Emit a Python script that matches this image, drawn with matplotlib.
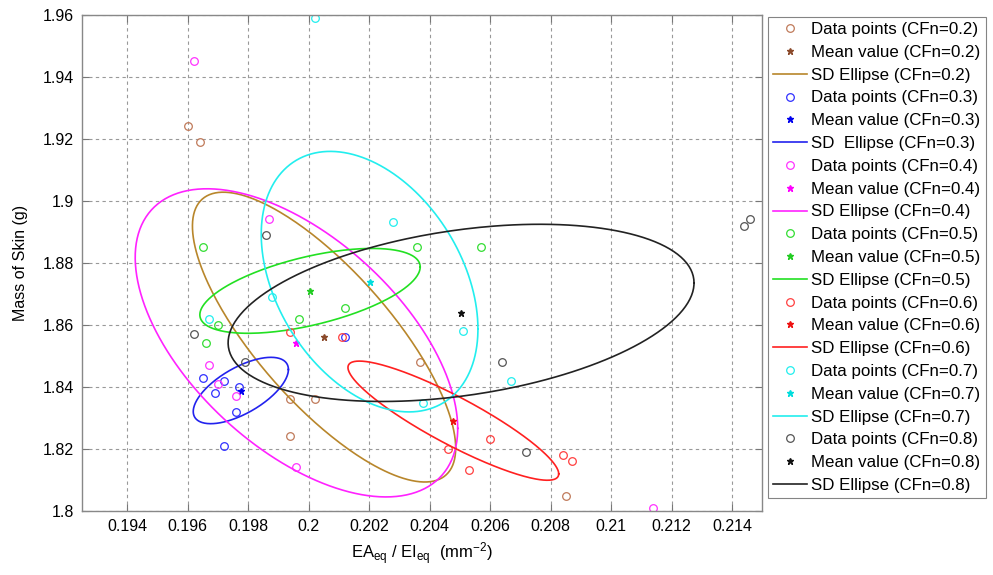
import numpy as np
import matplotlib
matplotlib.use("Agg")
import matplotlib.pyplot as plt
from matplotlib.ticker import FuncFormatter, MultipleLocator

plt.rcParams['font.family'] = ['Liberation Sans', 'DejaVu Sans']
plt.rcParams['mathtext.fontset'] = 'custom'
plt.rcParams['mathtext.rm'] = 'Liberation Sans'
plt.rcParams['mathtext.it'] = 'Liberation Sans'

cfn_labels = ["0.2", "0.3", "0.4", "0.5", "0.6", "0.7", "0.8"]

x_02 = [0.19600, 0.19641, 0.19938, 0.20019, 0.19938, 0.20368, 0.20850]
y_02 = [1.9241, 1.9190, 1.8360, 1.8360, 1.8241, 1.8480, 1.8048]

x_03 = [0.19649, 0.19720, 0.19690, 0.19770, 0.19759, 0.19719, 0.20120]
y_03 = [1.8429, 1.8418, 1.8379, 1.8400, 1.8320, 1.8209, 1.8559]

x_04 = [0.19619, 0.19869, 0.19670, 0.19700, 0.19759, 0.19959, 0.21139]
y_04 = [1.9451, 1.8941, 1.8469, 1.8408, 1.8370, 1.8141, 1.8010]

x_05 = [0.19650, 0.20359, 0.20570, 0.19701, 0.19660, 0.19969, 0.20120]
y_05 = [1.8851, 1.8851, 1.8851, 1.8599, 1.8540, 1.8619, 1.8653]

x_06 = [0.19938, 0.20111, 0.20599, 0.20459, 0.20530, 0.20840, 0.20870]
y_06 = [1.8577, 1.8559, 1.8230, 1.8198, 1.8130, 1.8179, 1.8160]

x_07 = [0.20020, 0.20280, 0.19880, 0.19670, 0.20509, 0.20379, 0.20670]
y_07 = [1.9590, 1.8930, 1.8689, 1.8618, 1.8579, 1.8348, 1.8418]

x_08 = [0.19859, 0.21439, 0.21460, 0.19619, 0.19790, 0.20640, 0.20719]
y_08 = [1.8889, 1.8919, 1.8941, 1.8569, 1.8480, 1.8480, 1.8189]

xs = [x_02, x_03, x_04, x_05, x_06, x_07, x_08]
ys = [y_02, y_03, y_04, y_05, y_06, y_07, y_08]

point_colors = ['#c07a5a', '#3030ff', '#ff33ff', '#33dd33', '#ff4040', '#22eeee', '#555555']
mean_colors = ['#8b4a2b', '#0000ee', '#ff00ff', '#22cc22', '#ee1111', '#00dddd', '#111111']
ell_colors = ['#b8862b', '#2222ee', '#ff22ff', '#22e022', '#ff2020', '#22eeee', '#222222']
ell_names = ["SD Ellipse", "SD  Ellipse", "SD Ellipse", "SD Ellipse", "SD Ellipse", "SD Ellipse", "SD Ellipse"]

fig = plt.figure(figsize=(9.93, 5.75), dpi=100)
ax = fig.add_axes([82/993, 1-510.7/575, (762.3-82)/993, (510.7-14.7)/575])

t = np.linspace(0, 2*np.pi, 300)
for i, lab in enumerate(cfn_labels):
    x = np.array(xs[i]); y = np.array(ys[i])
    ax.plot(x, y, 'o', mfc='none', mec=point_colors[i], ms=5.5, mew=0.9,
            label=f"Data points (CFn={lab})")
    mx, my = x.mean(), y.mean()
    ax.plot([mx], [my], '*', color=mean_colors[i], ms=4.5,
            label=f"Mean value (CFn={lab})")
    sx, sy = x.std(ddof=1), y.std(ddof=1)
    rho = np.corrcoef(x, y)[0, 1]
    ex = mx + sx*np.cos(t)
    ey = my + sy*(rho*np.cos(t) + np.sqrt(1-rho**2)*np.sin(t))
    ax.plot(ex, ey, '-', color=ell_colors[i], lw=1.2,
            label=f"{ell_names[i]} (CFn={lab})")

ax.set_xlim(0.1925, 0.215)
ax.set_ylim(1.8, 1.96)
ax.xaxis.set_major_locator(MultipleLocator(0.002))
ax.yaxis.set_major_locator(MultipleLocator(0.02))
fmt = FuncFormatter(lambda v, p: f"{round(v, 4):g}")
ax.xaxis.set_major_formatter(fmt)
ax.yaxis.set_major_formatter(fmt)
ax.grid(True, color='#999999', linestyle=(0, (3, 3)), linewidth=0.8)
ax.tick_params(direction='in', top=True, right=True, labelsize=11.5,
               color='#777777', length=5, pad=6)
for s in ax.spines.values():
    s.set_color('#888888')
    s.set_linewidth(1.0)

ax.set_xlabel(r'EA$_{\rm eq}$ / EI$_{\rm eq}$  (mm$^{-2}$)', fontsize=12, labelpad=5)
ax.set_ylabel('Mass of Skin (g)', fontsize=11.5, labelpad=10)

leg = fig.legend(loc='upper left', bbox_to_anchor=(768/993, 1-17/575),
                 fontsize=12.2, frameon=True, fancybox=False, edgecolor='#666666',
                 handlelength=2.0, handletextpad=0.25, labelspacing=0.46,
                 borderpad=0.3, borderaxespad=0)
leg.get_frame().set_linewidth(0.8)

fig.savefig('out.png', dpi=100)
